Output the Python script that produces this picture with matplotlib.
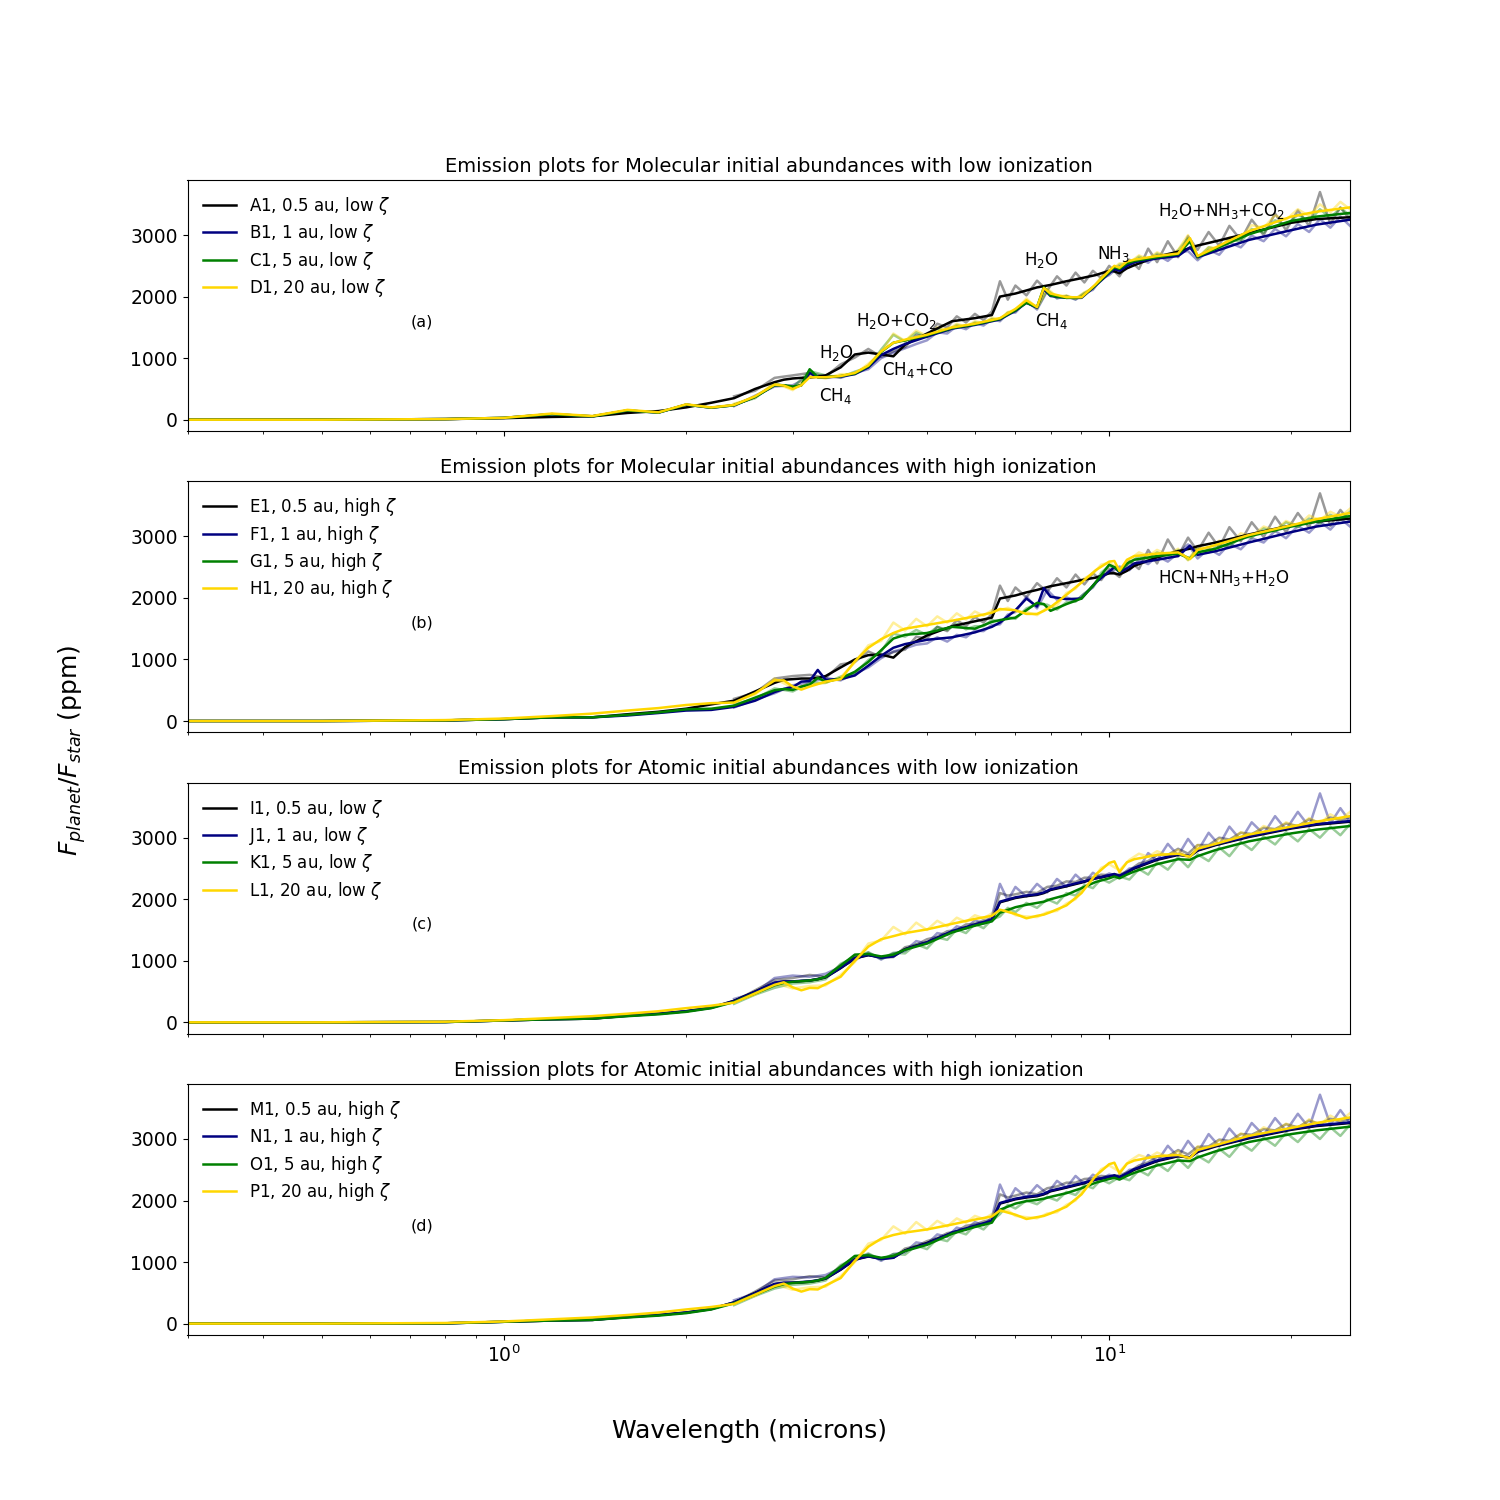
import matplotlib.pyplot as plt

# wavelength grids (microns)
WL = [0.3, 0.5, 0.8, 1.0, 1.2, 1.4, 1.6, 1.8, 2.0, 2.2, 2.4, 2.6, 2.8, 2.9, 3.0, 3.1, 3.2, 3.3, 3.4, 3.6,
      3.8, 4.0, 4.2, 4.4, 4.6, 5.0, 5.5, 6.0, 6.4, 6.6, 7.0, 7.3, 7.6, 7.8, 8.0, 8.5, 9.0, 9.5, 10.0, 10.2,
      10.4, 10.7, 11, 12, 13, 13.6, 14, 15, 17, 20, 22, 25]
WL_RAW = [2.4, 2.6, 2.8, 3.0, 3.2, 3.4, 3.6, 3.8, 4.0, 4.2, 4.4, 4.6, 4.8, 5.0, 5.2, 5.4, 5.6, 5.8, 6.0, 6.2,
          6.4, 6.6, 6.8, 7.0, 7.3, 7.6, 7.9, 8.2, 8.5, 8.8, 9.1, 9.4, 9.7, 10.0, 10.4, 10.8, 11.2, 11.6, 12.0,
          12.5, 13.0, 13.5, 14.0, 14.6, 15.2, 15.8, 16.5, 17.2, 18.0, 18.8, 19.6, 20.5, 21.4, 22.3, 23.2, 24.1, 25.0]

# (a) molecular, low ionization
A1 = [0, 0, 10, 25, 45, 55, 110, 140, 200, 275, 350, 500, 610, 650, 670, 680, 685, 700, 720, 850, 1060, 1090, 1060,
      1030, 1220, 1400, 1600, 1650, 1700, 2000, 2050, 2100, 2150, 2170, 2190, 2250, 2300, 2350, 2420, 2410, 2380,
      2460, 2510, 2650, 2730, 2790, 2830, 2900, 3030, 3200, 3260, 3290]
B1 = [0, 0, 10, 30, 90, 55, 150, 115, 245, 195, 235, 370, 560, 560, 520, 560, 760, 690, 690, 700, 740, 850, 1050,
      1150, 1230, 1350, 1480, 1540, 1600, 1630, 1770, 1900, 1820, 2120, 2010, 1980, 1980, 2180, 2380, 2450, 2420,
      2500, 2560, 2620, 2660, 2800, 2640, 2740, 2920, 3080, 3170, 3250]
C1 = [0, 0, 10, 30, 90, 55, 150, 115, 245, 195, 235, 370, 560, 560, 540, 560, 820, 690, 690, 710, 750, 870, 1100,
      1250, 1290, 1370, 1490, 1550, 1610, 1640, 1780, 1900, 1830, 2150, 2020, 1980, 1990, 2190, 2400, 2480, 2450,
      2540, 2580, 2640, 2690, 2900, 2650, 2780, 3010, 3230, 3300, 3360]
D1 = [0, 0, 10, 30, 100, 60, 160, 120, 250, 200, 240, 380, 570, 555, 500, 560, 690, 690, 690, 710, 760, 880, 1110,
      1250, 1300, 1380, 1500, 1560, 1620, 1650, 1800, 1940, 1830, 2140, 2050, 1990, 1990, 2200, 2420, 2500, 2470,
      2570, 2600, 2660, 2700, 2950, 2660, 2800, 3060, 3300, 3380, 3450]
A1_RAW = [380, 470, 680, 720, 760, 700, 900, 1010, 1150, 1020, 1110, 1180, 1380, 1350, 1560, 1500, 1680, 1580, 1720,
          1620, 1760, 2250, 1950, 2180, 2020, 2260, 2100, 2330, 2180, 2390, 2230, 2420, 2300, 2500, 2330, 2600, 2450,
          2780, 2560, 2900, 2640, 2980, 2760, 3050, 2830, 3150, 2920, 3250, 3000, 3350, 3080, 3400, 3150, 3700, 3180,
          3450, 3250]
B1_RAW = [220, 390, 540, 560, 700, 720, 680, 760, 820, 1000, 1090, 1160, 1230, 1290, 1420, 1400, 1520, 1470, 1570,
          1530, 1630, 1600, 1730, 1740, 1930, 1790, 2090, 1970, 2010, 1950, 2050, 2110, 2290, 2350, 2490, 2480, 2620,
          2550, 2680, 2580, 2720, 2740, 2590, 2760, 2680, 2880, 2800, 2990, 2900, 3100, 2980, 3180, 3050, 3260, 3120,
          3300, 3150]
C1_RAW = [250, 350, 590, 520, 790, 720, 690, 780, 850, 1140, 1380, 1270, 1420, 1340, 1480, 1440, 1540, 1500, 1580,
          1560, 1640, 1620, 1740, 1760, 1930, 1810, 2110, 1980, 2010, 1960, 2060, 2130, 2300, 2380, 2520, 2530, 2650,
          2590, 2700, 2630, 2750, 2950, 2620, 2800, 2760, 2940, 2890, 3100, 3040, 3240, 3160, 3330, 3230, 3420, 3280,
          3440, 3320]
D1_RAW = [260, 360, 600, 480, 720, 670, 740, 740, 910, 1090, 1400, 1280, 1450, 1360, 1500, 1460, 1560, 1510, 1600,
          1570, 1660, 1630, 1750, 1780, 1970, 1810, 2130, 2000, 2020, 1970, 2070, 2140, 2320, 2400, 2540, 2550, 2670,
          2610, 2720, 2650, 2760, 3000, 2630, 2800, 2790, 2960, 2950, 3160, 3120, 3320, 3250, 3420, 3310, 3500, 3370,
          3540, 3420]

# (b) molecular, high ionization
E1 = [0, 0, 10, 30, 60, 60, 110, 150, 200, 270, 330, 480, 620, 670, 680, 690, 690, 700, 730, 870, 1000, 1070, 1080,
      1030, 1200, 1390, 1540, 1620, 1680, 1990, 2040, 2090, 2130, 2160, 2190, 2240, 2290, 2330, 2400, 2400, 2380,
      2440, 2520, 2660, 2760, 2800, 2840, 2900, 3030, 3180, 3240, 3290]
F1 = [0, 0, 10, 30, 60, 60, 90, 130, 170, 180, 230, 330, 470, 520, 550, 640, 650, 830, 670, 680, 740, 900, 1060,
      1190, 1250, 1320, 1360, 1440, 1530, 1600, 1800, 1990, 1860, 2160, 2020, 1980, 1990, 2250, 2430, 2500, 2420,
      2480, 2560, 2620, 2680, 2850, 2700, 2760, 2900, 3070, 3160, 3240]
G1 = [0, 0, 10, 30, 60, 60, 100, 140, 190, 200, 250, 380, 500, 520, 505, 560, 590, 700, 640, 690, 800, 960, 1150,
      1340, 1400, 1430, 1530, 1500, 1610, 1640, 1680, 1800, 1920, 1900, 1790, 1900, 1990, 2250, 2540, 2500, 2430,
      2560, 2620, 2680, 2720, 2640, 2740, 2800, 3000, 3160, 3240, 3330]
H1 = [0, 0, 15, 40, 80, 120, 170, 210, 260, 290, 300, 450, 660, 660, 560, 510, 560, 600, 640, 680, 970, 1190, 1330,
      1430, 1500, 1560, 1630, 1700, 1760, 1820, 1800, 1740, 1740, 1790, 1850, 2050, 2250, 2450, 2590, 2600, 2440,
      2620, 2680, 2720, 2740, 2630, 2780, 2860, 3020, 3180, 3280, 3380]
E1_RAW = [360, 460, 690, 730, 750, 700, 920, 960, 1130, 1040, 1120, 1160, 1370, 1340, 1530, 1460, 1640, 1540, 1690,
          1600, 1740, 2200, 1950, 2170, 2010, 2240, 2100, 2320, 2170, 2380, 2220, 2400, 2290, 2470, 2340, 2600, 2470,
          2780, 2560, 2950, 2680, 2980, 2760, 3060, 2820, 3150, 2920, 3230, 2990, 3320, 3070, 3380, 3140, 3700, 3170,
          3430, 3240]
F1_RAW = [220, 350, 450, 580, 630, 700, 660, 770, 870, 1020, 1130, 1180, 1240, 1260, 1360, 1290, 1400, 1360, 1470,
          1460, 1560, 1570, 1730, 1770, 2020, 1830, 2130, 1970, 2010, 1950, 2070, 2170, 2360, 2400, 2510, 2450, 2620,
          2550, 2680, 2590, 2730, 2870, 2640, 2800, 2700, 2880, 2790, 2970, 2900, 3090, 2970, 3170, 3060, 3240, 3110,
          3290, 3160]
G1_RAW = [270, 360, 530, 480, 620, 620, 720, 780, 990, 1130, 1420, 1370, 1480, 1400, 1530, 1480, 1580, 1490, 1540,
          1540, 1640, 1620, 1690, 1660, 1830, 1900, 1890, 1810, 1930, 1940, 2070, 2180, 2410, 2520, 2460, 2560, 2680,
          2630, 2740, 2670, 2780, 2620, 2800, 2740, 2870, 2830, 3000, 2980, 3130, 3080, 3230, 3150, 3290, 3210, 3350,
          3270, 3400]
H1_RAW = [320, 430, 690, 540, 590, 620, 710, 950, 1230, 1300, 1600, 1470, 1660, 1540, 1700, 1600, 1750, 1650, 1780,
          1710, 1800, 1800, 1840, 1780, 1770, 1720, 1840, 1880, 2080, 2150, 2320, 2390, 2540, 2570, 2470, 2620, 2740,
          2680, 2780, 2700, 2800, 2610, 2840, 2790, 2930, 2880, 3050, 3000, 3160, 3100, 3250, 3170, 3340, 3260, 3400,
          3320, 3450]

# (c) atomic, low ionization
I1 = [0, 0, 5, 30, 50, 60, 110, 140, 180, 240, 350, 500, 640, 660, 660, 670, 680, 700, 730, 880, 1040, 1090, 1060,
      1080, 1190, 1300, 1470, 1580, 1660, 1950, 2020, 2050, 2070, 2100, 2150, 2210, 2270, 2340, 2380, 2400, 2380,
      2430, 2500, 2640, 2720, 2700, 2790, 2880, 3010, 3150, 3210, 3260]
J1 = [0, 0, 5, 30, 50, 60, 105, 140, 180, 235, 345, 495, 645, 665, 665, 675, 680, 705, 735, 885, 1045, 1095, 1050,
      1070, 1185, 1300, 1480, 1590, 1670, 1960, 2030, 2060, 2080, 2110, 2160, 2220, 2280, 2340, 2390, 2410, 2380,
      2440, 2510, 2650, 2730, 2700, 2800, 2890, 3020, 3160, 3220, 3270]
K1 = [0, 0, 5, 30, 50, 60, 100, 130, 170, 230, 330, 470, 600, 640, 660, 670, 680, 700, 740, 920, 1100, 1110, 1070,
      1100, 1180, 1280, 1460, 1570, 1640, 1780, 1870, 1910, 1940, 1960, 2000, 2070, 2180, 2280, 2340, 2370, 2340,
      2400, 2450, 2570, 2650, 2640, 2700, 2800, 2940, 3070, 3130, 3190]
L1 = [0, 0, 10, 35, 70, 100, 140, 180, 230, 270, 320, 470, 610, 650, 570, 520, 560, 555, 620, 740, 1000, 1230, 1350,
      1400, 1450, 1510, 1600, 1680, 1730, 1830, 1760, 1690, 1730, 1750, 1790, 1900, 2100, 2400, 2590, 2615, 2440,
      2600, 2650, 2720, 2740, 2690, 2820, 2900, 3050, 3180, 3260, 3350]
I1_RAW = [340, 520, 690, 720, 770, 740, 930, 1070, 1100, 1050, 1060, 1220, 1260, 1350, 1390, 1480, 1500, 1590, 1600,
          1660, 1680, 2100, 2060, 2080, 2120, 2100, 2200, 2220, 2290, 2280, 2350, 2350, 2400, 2390, 2400, 2470, 2580,
          2620, 2720, 2720, 2820, 2740, 2880, 2880, 3000, 2970, 3080, 3060, 3160, 3140, 3230, 3190, 3300, 3240, 3330,
          3280, 3330]
J1_RAW = [380, 480, 720, 760, 740, 790, 900, 1010, 1130, 1020, 1120, 1160, 1320, 1280, 1450, 1420, 1560, 1520, 1660,
          1600, 1720, 2250, 1980, 2200, 2040, 2250, 2110, 2330, 2200, 2400, 2270, 2430, 2350, 2420, 2360, 2500, 2500,
          2750, 2630, 2900, 2710, 2980, 2780, 3080, 2880, 3180, 2960, 3250, 3060, 3350, 3130, 3420, 3180, 3720, 3230,
          3480, 3260]
K1_RAW = [300, 450, 560, 630, 650, 700, 950, 1060, 1140, 1030, 1130, 1120, 1270, 1200, 1380, 1340, 1510, 1450, 1600,
          1530, 1670, 1720, 1860, 1790, 1940, 1860, 2000, 1930, 2100, 2060, 2230, 2180, 2330, 2270, 2370, 2320, 2490,
          2400, 2600, 2480, 2680, 2520, 2730, 2620, 2840, 2700, 2930, 2800, 3020, 2890, 3090, 2940, 3140, 3000, 3180,
          3040, 3220]
L1_RAW = [340, 450, 640, 550, 590, 600, 770, 980, 1280, 1330, 1550, 1430, 1620, 1500, 1650, 1560, 1700, 1630, 1740,
          1690, 1770, 1810, 1830, 1740, 1720, 1710, 1790, 1810, 1930, 2000, 2190, 2320, 2510, 2570, 2470, 2640, 2740,
          2690, 2780, 2710, 2800, 2660, 2880, 2830, 2980, 2930, 3090, 3030, 3190, 3120, 3250, 3170, 3320, 3230, 3380,
          3290, 3420]

# (d) atomic, high ionization
M1 = [0, 0, 5, 30, 50, 60, 110, 140, 180, 240, 345, 500, 640, 660, 665, 670, 680, 700, 730, 875, 1040, 1090, 1060,
      1075, 1190, 1310, 1470, 1580, 1660, 1950, 2020, 2050, 2070, 2100, 2150, 2210, 2270, 2340, 2380, 2400, 2380,
      2430, 2500, 2640, 2720, 2700, 2790, 2880, 3010, 3150, 3210, 3260]
N1 = [0, 0, 5, 30, 50, 60, 105, 140, 180, 235, 345, 495, 645, 665, 665, 675, 685, 705, 735, 880, 1045, 1095, 1050,
      1070, 1185, 1300, 1480, 1590, 1670, 1960, 2030, 2060, 2080, 2110, 2160, 2220, 2280, 2340, 2390, 2410, 2380,
      2440, 2510, 2650, 2730, 2700, 2800, 2890, 3020, 3160, 3220, 3270]
O1 = [0, 0, 5, 30, 50, 60, 100, 130, 170, 230, 330, 470, 600, 640, 660, 670, 680, 700, 740, 920, 1100, 1110, 1070,
      1100, 1180, 1280, 1460, 1570, 1640, 1850, 1950, 1990, 2010, 2030, 2060, 2120, 2200, 2290, 2350, 2370, 2340,
      2400, 2450, 2570, 2650, 2640, 2700, 2800, 2950, 3080, 3140, 3200]
P1 = [0, 0, 10, 35, 70, 100, 140, 180, 230, 270, 320, 470, 610, 650, 570, 520, 560, 555, 620, 740, 1020, 1250, 1380,
      1440, 1480, 1530, 1610, 1690, 1740, 1840, 1770, 1700, 1730, 1750, 1790, 1900, 2100, 2400, 2590, 2615, 2440,
      2600, 2650, 2720, 2740, 2690, 2820, 2900, 3050, 3180, 3260, 3350]
M1_RAW = [340, 520, 700, 720, 770, 750, 930, 1060, 1100, 1050, 1070, 1220, 1260, 1340, 1390, 1470, 1500, 1590, 1610,
          1660, 1690, 2100, 2050, 2080, 2130, 2100, 2200, 2230, 2290, 2290, 2350, 2360, 2400, 2390, 2410, 2470, 2570,
          2620, 2710, 2720, 2820, 2750, 2870, 2880, 2990, 2970, 3080, 3070, 3160, 3140, 3240, 3190, 3300, 3240, 3330,
          3280, 3330]
N1_RAW = [380, 490, 720, 760, 750, 790, 900, 1020, 1130, 1020, 1130, 1160, 1320, 1290, 1450, 1410, 1560, 1520, 1650,
          1600, 1720, 2260, 1980, 2200, 2050, 2250, 2110, 2320, 2210, 2400, 2270, 2420, 2350, 2420, 2360, 2500, 2510,
          2740, 2630, 2890, 2710, 2970, 2780, 3080, 2880, 3170, 2960, 3260, 3060, 3340, 3130, 3410, 3180, 3720, 3230,
          3470, 3260]
O1_RAW = [300, 450, 570, 630, 650, 700, 950, 1060, 1140, 1040, 1130, 1120, 1270, 1210, 1380, 1340, 1500, 1450, 1600,
          1530, 1670, 1780, 1930, 1870, 2000, 1940, 2060, 2000, 2140, 2090, 2250, 2200, 2340, 2280, 2380, 2330, 2490,
          2410, 2600, 2480, 2680, 2530, 2730, 2620, 2840, 2710, 2930, 2810, 3020, 2890, 3100, 2950, 3150, 3000, 3190,
          3050, 3230]
P1_RAW = [340, 450, 640, 550, 590, 600, 770, 1000, 1300, 1360, 1580, 1460, 1650, 1520, 1670, 1580, 1710, 1640, 1750,
          1700, 1780, 1820, 1840, 1750, 1730, 1710, 1790, 1810, 1930, 2000, 2190, 2320, 2510, 2570, 2470, 2640, 2740,
          2690, 2780, 2710, 2800, 2660, 2880, 2830, 2980, 2930, 3090, 3030, 3190, 3120, 3250, 3170, 3320, 3230, 3380,
          3290, 3420]

COLORS = ['black', 'navy', 'green', 'gold']
DIST = ['0.5', '1', '5', '20']

panels = [
    ('Molecular', 'low', '(a)', ['A1', 'B1', 'C1', 'D1'], [A1, B1, C1, D1], [A1_RAW, B1_RAW, C1_RAW, D1_RAW]),
    ('Molecular', 'high', '(b)', ['E1', 'F1', 'G1', 'H1'], [E1, F1, G1, H1], [E1_RAW, F1_RAW, G1_RAW, H1_RAW]),
    ('Atomic', 'low', '(c)', ['I1', 'J1', 'K1', 'L1'], [I1, J1, K1, L1], [I1_RAW, J1_RAW, K1_RAW, L1_RAW]),
    ('Atomic', 'high', '(d)', ['M1', 'N1', 'O1', 'P1'], [M1, N1, O1, P1], [M1_RAW, N1_RAW, O1_RAW, P1_RAW]),
]

# molecule labels (text, wavelength, ppm)
labels_a = [
    ('H$_2$O+NH$_3$+CO$_2$', 12.05, 3390),
    ('NH$_3$', 9.55, 2690),
    ('H$_2$O', 7.24, 2590),
    ('CH$_4$', 7.55, 1600),
    ('H$_2$O+CO$_2$', 3.82, 1600),
    ('H$_2$O', 3.32, 1090),
    ('CH$_4$+CO', 4.21, 810),
    ('CH$_4$', 3.32, 390),
]
labels_b = [('HCN+NH$_3$+H$_2$O', 12.05, 2330)]

fig, axes = plt.subplots(4, 1, sharex=True, figsize=(15, 15))

for ax, (kind, ion, tag, names, smooth, raw) in zip(axes, panels):
    for vals, c in zip(raw, COLORS):
        ax.plot(WL_RAW, vals, color=c, alpha=0.4, lw=1.8)
    for name, d, vals, c in zip(names, DIST, smooth, COLORS):
        ax.plot(WL, vals, color=c, lw=1.8, label='%s, %s au, %s $\\zeta$' % (name, d, ion))
    ax.set_xscale('log')
    ax.set_xlim(0.3, 25)
    ax.set_ylim(-185, 3895)
    ax.set_yticks([0, 1000, 2000, 3000])
    ax.tick_params(labelsize=13.5)
    ax.set_title('Emission plots for %s initial abundances with %s ionization' % (kind, ion), fontsize=14)
    ax.legend(loc='upper left', frameon=False, fontsize=12, labelspacing=0.32)
    ax.text(0.732, 1590, tag, ha='center', va='center', fontsize=11.5)

for txt, x, y in labels_a:
    axes[0].text(x, y, txt, ha='left', va='center', fontsize=12)
for txt, x, y in labels_b:
    axes[1].text(x, y, txt, ha='left', va='center', fontsize=12)

fig.text(0.5, 0.046, 'Wavelength (microns)', ha='center', va='center', fontsize=18)
fig.text(0.048, 0.5, '$F_{planet}/F_{star}$ (ppm)', ha='center', va='center', rotation=90, fontsize=18)

plt.savefig('out.png', dpi=100)
